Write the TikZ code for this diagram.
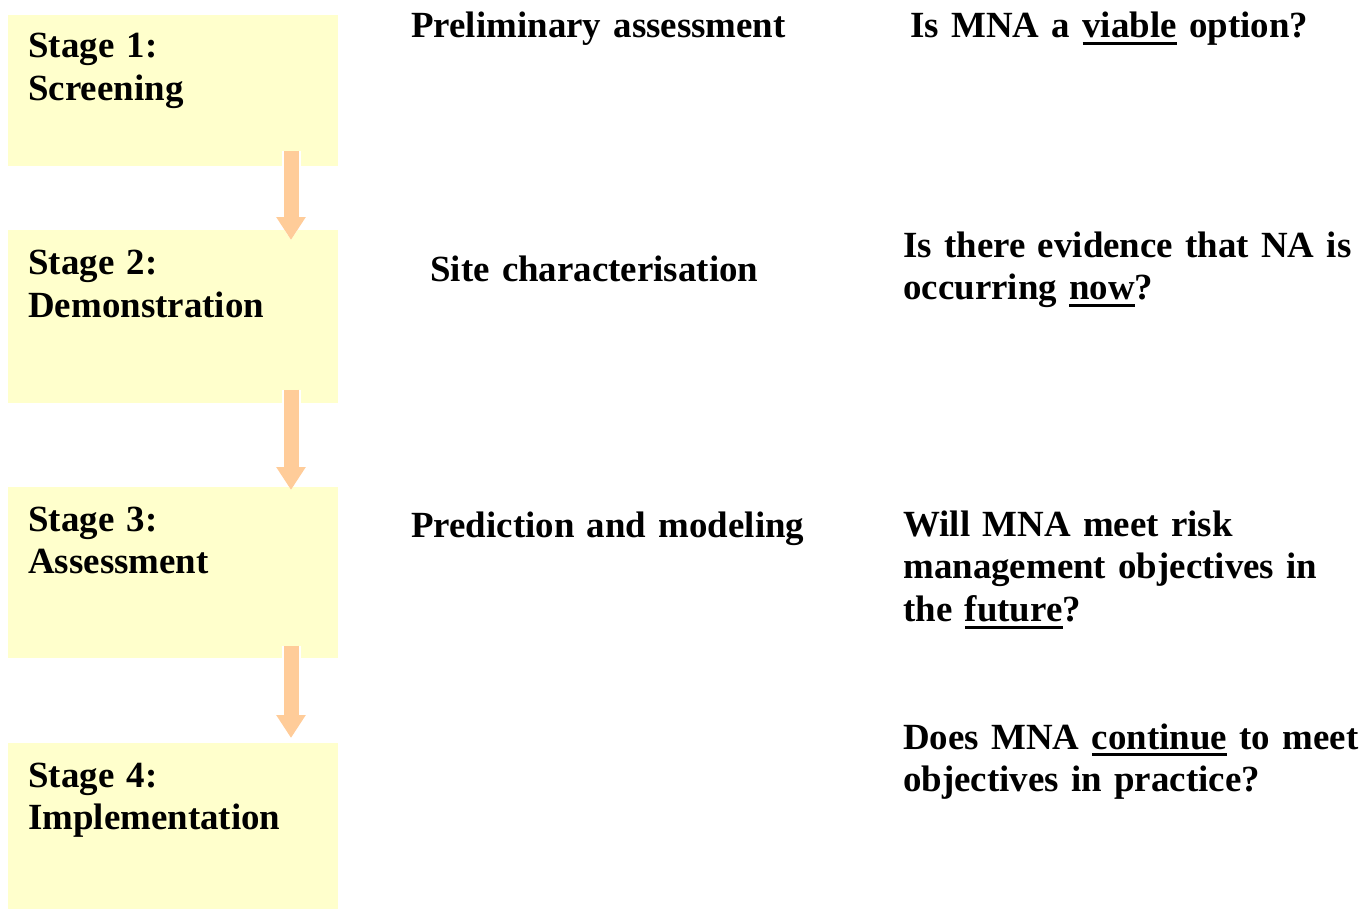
\documentclass[tikz,border=0pt]{standalone}
\usepackage{fontspec}
\setmainfont[WordSpace=0.8]{Liberation Serif}
\usetikzlibrary{arrows.meta,calc}
\definecolor{boxfill}{HTML}{FFFFCC}
\definecolor{arrowfill}{HTML}{FFCC99}
% underlined key word
\newsavebox{\kwbox}
\newcommand{\keyword}[1]{\sbox{\kwbox}{#1}\rlap{\rule[-0.19em]{\wd\kwbox}{0.07em}}\usebox{\kwbox}}
\begin{document}
\begin{tikzpicture}[x=0.02cm, y=-0.02cm,
		stagebox/.style={fill=boxfill, draw=none, anchor=north west, minimum width=6.6cm, inner sep=0pt},
		txt/.style={anchor=base west, inner sep=0pt, align=left, text width=#1, font=\fontsize{21}{24.4}\selectfont\bfseries},
		txt/.default=9.4cm,
		flow/.style={line width=0.3cm, draw=arrowfill, -{Triangle[width=0.56cm,length=0.46cm]},
			preaction={draw=white, line width=0.38cm, -{Triangle[width=0.68cm,length=0.54cm]}}}]
	\useasboundingbox (0,0) rectangle (1370,909);
	
	% Stage boxes
	\node[stagebox, minimum height=3.02cm] (s1) at (8,15) {};
	\node[stagebox, minimum height=3.46cm] (s2) at (8,230) {};
	\node[stagebox, minimum height=3.42cm] (s3) at (8,487) {};
	\node[stagebox, minimum height=3.32cm] (s4) at (8,743) {};
	
	% Stage names
	\node[txt=6cm] (l1) at ([shift={(20,43)}]s1.north west) {Stage 1:\\Screening};
	\node[txt=6cm] (l2) at ([shift={(20,45)}]s2.north west) {Stage 2:\\Demonstration};
	\node[txt=6cm] (l3) at ([shift={(20,44)}]s3.north west) {Stage 3:\\Assessment};
	\node[txt=6cm] (l4) at ([shift={(20,44)}]s4.north west) {Stage 4:\\Implementation};
	
	% Arrows between the stages
	\coordinate (ax) at (291,0);
	\draw[flow] ([yshift=0.32cm]s1.south -| ax) -- ([yshift=-0.2cm]s2.north -| ax);
	\draw[flow] ([yshift=0.28cm]s2.south -| ax) -- ([yshift=-0.06cm]s3.north -| ax);
	\draw[flow] ([yshift=0.26cm]s3.south -| ax) -- ([yshift=0.1cm]s4.north -| ax);
	
	% Middle column
	\node[txt] (m1) at (411,38) {Preliminary assessment};
	\node[txt] (m2) at (430,281) {Site characterisation};
	\node[txt] (m3) at (411,537) {Prediction and modeling};
	
	% Questions
	\node[txt] (q1) at (910,38) {Is MNA a \keyword{viable} option?};
	\node[txt] (q2) at (903,257) {Is there evidence that NA is\\occurring \keyword{now}?};
	\node[txt] (q3) at (903,536) {Will MNA meet risk\\management objectives in\\the \keyword{future}?};
	\node[txt] (q4) at (903,749) {Does MNA \keyword{continue} to meet\\objectives in practice?};
\end{tikzpicture}
\end{document}
